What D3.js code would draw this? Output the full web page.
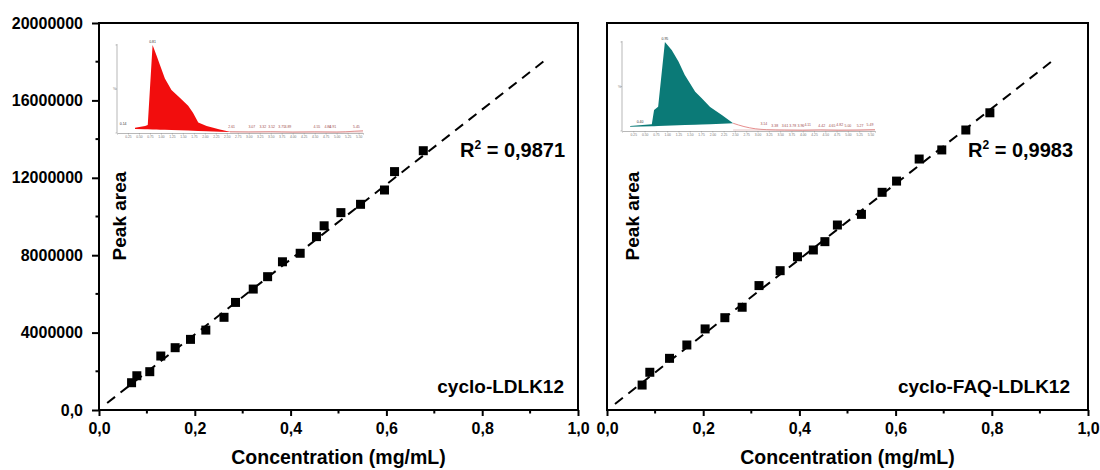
<!DOCTYPE html>
<html>
<head>
<meta charset="utf-8">
<script src="https://cdn.jsdelivr.net/npm/d3@7"></script>
<style>
  body { margin: 0; background: #fff; }
  svg { display: block; font-family: "Liberation Sans", Arial, sans-serif; }
</style>
</head>
<body>
<svg id="chart" width="1100" height="470"></svg>
<script>
// Calibration data (concentration in mg/mL, peak area)
const concLDLK = [0.068, 0.079, 0.106, 0.129, 0.159, 0.191, 0.223, 0.261, 0.285, 0.322,
                  0.352, 0.383, 0.420, 0.454, 0.470, 0.505, 0.546, 0.596, 0.617, 0.677];
const areaLDLK = [1.41e6, 1.77e6, 1.98e6, 2.79e6, 3.22e6, 3.65e6, 4.13e6, 4.79e6, 5.56e6, 6.25e6,
                  6.89e6, 7.66e6, 8.10e6, 8.96e6, 9.52e6, 10.20e6, 10.63e6, 11.37e6, 12.32e6, 13.40e6];
const concFAQ = [0.073, 0.089, 0.130, 0.166, 0.204, 0.245, 0.281, 0.316, 0.360, 0.396,
                 0.429, 0.453, 0.479, 0.529, 0.572, 0.602, 0.649, 0.696, 0.746, 0.796];
const areaFAQ = [1.29e6, 1.95e6, 2.67e6, 3.36e6, 4.19e6, 4.77e6, 5.31e6, 6.43e6, 7.20e6, 7.92e6,
                 8.27e6, 8.70e6, 9.56e6, 10.11e6, 11.25e6, 11.83e6, 12.97e6, 13.44e6, 14.47e6, 15.36e6];

// Linear fits: [slope, intercept] and drawn concentration range
const fitLDLK = [19.38e6, 0.03e6];
const fitFAQ = [19.5e6, -0.01e6];
const fitRangeLDLK = [0.017, 0.937];
const fitRangeFAQ = [0.0166, 0.933];

const r2Values = ['0,9871', '0,9983'];
const sampleNames = ['cyclo-LDLK12', 'cyclo-FAQ-LDLK12'];

const xTicks = [0, 0.2, 0.4, 0.6, 0.8, 1.0];
const xMinor = [0.1, 0.3, 0.5, 0.7, 0.9];
const yTicks = [0, 4000000, 8000000, 12000000, 16000000, 20000000];
const yMinor = [2000000, 6000000, 10000000, 14000000, 18000000];

// Inset chromatograms (retention time in min, relative intensity %)
const chromTimeA = [0.41, 0.64, 0.70, 0.81, 0.90, 0.98, 1.09, 1.24, 1.43, 1.62, 1.73, 1.85, 2.04, 2.34, 2.57];
const chromTopA  = [6, 8, 9, 100, 88, 77, 62, 49, 40, 31, 23, 12, 8, 4, 1.5];
const chromBaseA = [4.5, 4.3, 4.2, 4.0, 3.9, 3.8, 3.6, 3.4, 3.0, 2.7, 2.5, 2.3, 2.0, 1.5, 1.2];
const traceTimeA = [2.57, 3.0, 3.5, 4.0, 4.5, 5.0, 5.4, 5.6];
const traceIntA  = [1.5, 1.2, 1.5, 1.0, 1.3, 1.0, 2.0, 2.5];
const peakTimesA = [0.14, 0.81, 2.61, 3.07, 3.32, 3.52, 3.75, 3.89, 4.55, 4.80, 4.91, 5.45];
const peakIntA   = [8, 101, 5, 5, 4, 5, 5, 4, 5, 5, 5, 5];

const chromTimeB = [0.18, 0.66, 0.71, 0.80, 0.95, 1.10, 1.25, 1.39, 1.62, 1.76, 1.95, 2.21, 2.46];
const chromTopB  = [5.6, 7.5, 23.6, 27.3, 100, 91, 78, 63, 44, 37, 27, 18, 8.7];
const chromBaseB = [4.8, 5.3, 5.4, 5.5, 5.8, 6.1, 6.4, 6.7, 7.1, 7.3, 7.7, 8.2, 8.7];
const traceTimeB = [2.46, 2.7, 2.95, 3.2, 3.6, 4.0, 4.4, 4.8, 5.2, 5.6];
const traceIntB  = [8.7, 5, 2.5, 1.5, 1, 0.8, 1.2, 0.8, 1, 1.5];
const peakTimesB = [0.40, 0.95, 3.14, 3.38, 3.61, 3.78, 3.96, 4.11, 4.42, 4.65, 4.82, 5.00, 5.27, 5.49];
const peakIntB   = [8, 101, 6, 3, 3, 3, 3, 5, 3, 3, 5, 3, 3, 5];
const insetTicks = [0.25, 0.5, 0.75, 1.0, 1.25, 1.5, 1.75, 2.0, 2.25, 2.5, 2.75, 3.0,
                    3.25, 3.5, 3.75, 4.0, 4.25, 4.5, 4.75, 5.0, 5.25, 5.5];

const svg = d3.select('#chart');
const plotTop = 23, plotBottom = 410;

const panels = [
  { left: 99, right: 578, conc: concLDLK, area: areaLDLK, fit: fitLDLK, fitRange: fitRangeLDLK,
    r2: r2Values[0], name: sampleNames[0], yLabels: true, ylabX: 126, r2X: 460, nameX: 564,
    inset: { left: 117, right: 363, top: 45, bottom: 133, color: '#f20d0d',
             time: chromTimeA, top_: chromTopA, base: chromBaseA,
             traceT: traceTimeA, traceI: traceIntA, peakT: peakTimesA, peakI: peakIntA } },
  { left: 607, right: 1088, conc: concFAQ, area: areaFAQ, fit: fitFAQ, fitRange: fitRangeFAQ,
    r2: r2Values[1], name: sampleNames[1], yLabels: false, ylabX: 639, r2X: 968, nameX: 1070,
    inset: { left: 622, right: 875, top: 42, bottom: 131, color: '#0b7a77',
             time: chromTimeB, top_: chromTopB, base: chromBaseB,
             traceT: traceTimeB, traceI: traceIntB, peakT: peakTimesB, peakI: peakIntB } }
];

const fmtX = d => d3.format('.1f')(d).replace('.', ',');
const fmtY = d => d === 0 ? '0,0' : d3.format('d')(d);

function drawInset(c) {
  const tx = d3.scaleLinear().domain([0, 5.6]).range([c.left, c.right]);
  const ty = d3.scaleLinear().domain([0, 100]).range([c.bottom, c.top]);
  const g = svg.append('g');

  // axes of the chromatogram
  g.append('line')
    .attr('x1', c.left).attr('x2', c.left)
    .attr('y1', c.top - 1).attr('y2', c.bottom)
    .attr('stroke', '#999').attr('stroke-width', 0.7);
  g.selectAll('.iyt').data([0, 50, 100]).enter().append('line')
    .attr('x1', c.left - 1.5).attr('x2', c.left)
    .attr('y1', d => ty(d)).attr('y2', d => ty(d))
    .attr('stroke', '#999').attr('stroke-width', 0.6);
  g.append('text').attr('x', c.left - 4).attr('y', ty(50) + 1)
    .attr('font-size', 3.5).attr('fill', '#777').text('%');

  const ax = g.append('g').attr('transform', `translate(0,${c.bottom})`)
    .call(d3.axisBottom(tx).tickValues(insetTicks).tickSize(1.5).tickPadding(1.2)
      .tickFormat(d3.format('.2f')));
  ax.select('.domain').attr('stroke', '#999').attr('stroke-width', 0.7);
  ax.selectAll('.tick line').attr('stroke', '#999').attr('stroke-width', 0.6);
  ax.selectAll('text').attr('font-size', 3.3).attr('fill', '#777');

  // filled peak
  const pts = c.time.map((t, i) => ({ t: t, top: c.top_[i], base: c.base[i] }));
  g.append('path').datum(pts)
    .attr('d', d3.area().x(d => tx(d.t)).y0(d => ty(d.base)).y1(d => ty(d.top)))
    .attr('fill', c.color);

  // remaining trace
  const tr = c.traceT.map((t, i) => [t, c.traceI[i]]);
  g.append('path').datum(tr)
    .attr('d', d3.line().x(d => tx(d[0])).y(d => ty(d[1])).curve(d3.curveMonotoneX))
    .attr('fill', 'none').attr('stroke', '#e07070').attr('stroke-width', 0.8);
  g.append('line')
    .attr('x1', tx(c.time[c.time.length - 1])).attr('x2', c.right)
    .attr('y1', c.bottom - 1).attr('y2', c.bottom - 1)
    .attr('stroke', '#d9a0a0').attr('stroke-width', 0.6);

  // retention time labels
  g.selectAll('.pk').data(c.peakT).enter().append('text')
    .attr('x', d => tx(d)).attr('y', (d, i) => ty(c.peakI[i]) - 1)
    .attr('text-anchor', 'middle').attr('font-size', 3.5)
    .attr('fill', (d, i) => i < 2 ? '#333' : '#a05050')
    .text(d => d.toFixed(2));
}

function drawPanel(p) {
  const x = d3.scaleLinear().domain([0, 1]).range([p.left, p.right]);
  const y = d3.scaleLinear().domain([0, 20000000]).range([plotBottom, plotTop]);

  drawInset(p.inset);

  // frame
  svg.append('rect')
    .attr('x', p.left).attr('y', plotTop)
    .attr('width', p.right - p.left).attr('height', plotBottom - plotTop)
    .attr('fill', 'none').attr('stroke', '#000').attr('stroke-width', 2);

  // x axis
  const gx = svg.append('g').attr('transform', `translate(0,${plotBottom})`)
    .call(d3.axisBottom(x).tickValues(xTicks).tickSize(6).tickPadding(7).tickFormat(fmtX));
  gx.select('.domain').remove();
  gx.selectAll('.tick line').attr('stroke', '#000').attr('stroke-width', 2);
  gx.selectAll('text').attr('font-size', 16).attr('font-weight', 'bold')
    .attr('fill', '#000').attr('font-family', '"Liberation Sans", Arial, sans-serif');
  gx.selectAll('.minor').data(xMinor).enter().append('line')
    .attr('x1', d => x(d)).attr('x2', d => x(d)).attr('y1', 0).attr('y2', 3.5)
    .attr('stroke', '#000').attr('stroke-width', 2);

  // y axis (left panel only)
  if (p.yLabels) {
    const gy = svg.append('g').attr('transform', `translate(${p.left},0)`)
      .call(d3.axisLeft(y).tickValues(yTicks).tickSize(7).tickPadding(9).tickFormat(fmtY));
    gy.select('.domain').remove();
    gy.selectAll('.tick line').attr('stroke', '#000').attr('stroke-width', 2);
    gy.selectAll('text').attr('font-size', 16).attr('font-weight', 'bold')
      .attr('fill', '#000').attr('font-family', '"Liberation Sans", Arial, sans-serif');
    gy.selectAll('.minor').data(yMinor).enter().append('line')
      .attr('x1', -3.5).attr('x2', 0).attr('y1', d => y(d)).attr('y2', d => y(d))
      .attr('stroke', '#000').attr('stroke-width', 2);
  }

  // fitted line
  const fitPts = p.fitRange.map(c => [c, p.fit[0] * c + p.fit[1]]);
  svg.append('path').datum(fitPts)
    .attr('d', d3.line().x(d => x(d[0])).y(d => y(d[1])))
    .attr('fill', 'none').attr('stroke', '#000').attr('stroke-width', 2)
    .attr('stroke-dasharray', '10,7');

  // data points
  svg.append('g').selectAll('rect')
    .data(p.conc.map((c, i) => [c, p.area[i]]))
    .enter().append('rect')
    .attr('x', d => x(d[0]) - 4.5).attr('y', d => y(d[1]) - 4.5)
    .attr('width', 9).attr('height', 9).attr('fill', '#000');

  // axis titles
  svg.append('text')
    .attr('transform', `translate(${p.ylabX},216) rotate(-90)`)
    .attr('text-anchor', 'middle').attr('font-size', 19).attr('font-weight', 'bold')
    .text('Peak area');
  svg.append('text')
    .attr('x', (p.left + p.right) / 2).attr('y', 464)
    .attr('text-anchor', 'middle').attr('font-size', 19.5).attr('font-weight', 'bold')
    .text('Concentration (mg/mL)');

  // R² annotation
  const r2 = svg.append('text').attr('x', p.r2X).attr('y', 157)
    .attr('font-size', 20).attr('font-weight', 'bold');
  r2.append('tspan').text('R');
  r2.append('tspan').attr('dy', -8).attr('font-size', 12).text('2');
  r2.append('tspan').attr('dy', 8).text(' = ' + p.r2);

  // sample name
  svg.append('text')
    .attr('x', p.nameX).attr('y', 393)
    .attr('text-anchor', 'end').attr('font-size', 19).attr('font-weight', 'bold')
    .text(p.name);
}

panels.forEach(drawPanel);
</script>
</body>
</html>
